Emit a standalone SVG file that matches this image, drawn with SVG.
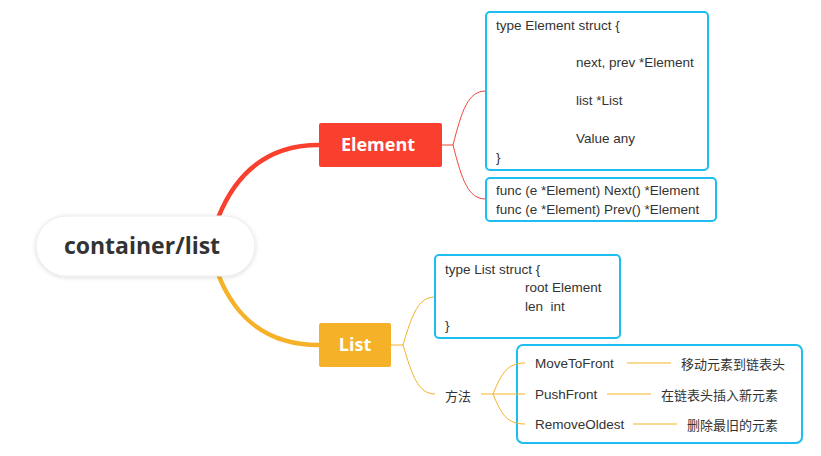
<svg xmlns="http://www.w3.org/2000/svg" width="821" height="456" viewBox="0 0 821 456">
<defs>
<filter id="sh" x="-20%" y="-30%" width="140%" height="160%">
<feDropShadow dx="0" dy="1" stdDeviation="2" flood-color="#000" flood-opacity="0.15"/>
</filter>
<style>
.t{font-family:"Liberation Sans","Noto Sans CJK SC",sans-serif;font-size:13.5px;fill:#333;dominant-baseline:central;white-space:pre}
.cn{font-family:"Noto Sans CJK SC","Liberation Sans",sans-serif;font-size:13px;fill:#333;dominant-baseline:central}
.box{fill:#fff;stroke:#1cbdf0;stroke-width:2}
.rl{fill:none;stroke:#f2463a;stroke-width:1}
.yl{fill:none;stroke:#f5b22b;stroke-width:1}
.lbl{font-family:"Open Sans","Liberation Sans",sans-serif;font-weight:bold;fill:#fff;text-anchor:middle;dominant-baseline:central}
</style>
</defs>
<rect width="821" height="456" fill="#fff"/>
<g id="methods-box">
<rect class="box" x="517" y="345" width="285" height="98" rx="6"/>
</g>
<g id="connectors">
<path d="M218,218 C235,175 265,145 319,145" fill="none" stroke="#f93f2d" stroke-width="4.5"/>
<path d="M218,274 C235,317 265,345 319,345" fill="none" stroke="#f5b229" stroke-width="4.5"/>
<path class="rl" d="M442,145 L453,145 C462,110 468,91 486,91"/>
<path class="rl" d="M453,145 C462,180 468,199 486,199"/>
<path class="yl" d="M391,345 L403,345 C412,315 418,297 435,297"/>
<path class="yl" d="M403,345 C412,375 418,394 435,394"/>
<path class="yl" d="M481,394 L493,394 C502,372 508,363 525,363"/>
<path class="yl" d="M493,394 L525,394"/>
<path class="yl" d="M493,394 C502,416 508,424 525,424"/>
<path class="yl" d="M627,363 L671,363"/>
<path class="yl" d="M607,394 L651,394"/>
<path class="yl" d="M633,424 L677,424"/>
</g>
<g id="root">
<rect x="36" y="216" width="219" height="60" rx="30" fill="#fff" stroke="#ececec" stroke-width="1" filter="url(#sh)"/>
<text x="142" y="245" class="lbl" style="fill:#333;font-size:23px">container/list</text>
</g>
<g id="element">
<rect x="319" y="123" width="123" height="44" rx="2" fill="#f93f2d"/>
<text x="378" y="144" class="lbl" style="font-size:18px">Element</text>
</g>
<g id="list">
<rect x="319" y="323" width="72" height="44" rx="2" fill="#f5b229"/>
<text x="355" y="344" class="lbl" style="font-size:18px">List</text>
</g>
<g id="element-struct">
<rect class="box" x="486" y="12" width="222" height="158" rx="4"/>
<text class="t" x="496" y="25">type Element struct {</text>
<text class="t" x="576" y="62">next, prev *Element</text>
<text class="t" x="576" y="100">list *List</text>
<text class="t" x="576" y="138">Value any</text>
<text class="t" x="496" y="157">}</text>
</g>
<g id="element-funcs">
<rect class="box" x="486" y="178" width="230" height="43" rx="4"/>
<text class="t" x="496" y="190">func (e *Element) Next() *Element</text>
<text class="t" x="496" y="209">func (e *Element) Prev() *Element</text>
</g>
<g id="list-struct">
<rect class="box" x="435" y="255" width="185" height="83" rx="4"/>
<text class="t" x="445" y="269">type List struct {</text>
<text class="t" x="525" y="287">root Element</text>
<text class="t" x="525" y="306" xml:space="preserve">len  int</text>
<text class="t" x="445" y="325">}</text>
</g>
<g id="methods">
<text class="cn" x="445" y="395">方法</text>
</g>
<g id="m-movetofront">
<text class="t" x="535" y="363">MoveToFront</text>
</g>
<g id="d-movetofront"><text class="cn" x="681" y="363">移动元素到链表头</text></g>
<g id="m-pushfront">
<text class="t" x="535" y="394">PushFront</text>
</g>
<g id="d-pushfront"><text class="cn" x="661" y="394">在链表头插入新元素</text></g>
<g id="m-removeoldest">
<text class="t" x="535" y="424">RemoveOldest</text>
</g>
<g id="d-removeoldest"><text class="cn" x="687" y="424">删除最旧的元素</text></g>
</svg>
